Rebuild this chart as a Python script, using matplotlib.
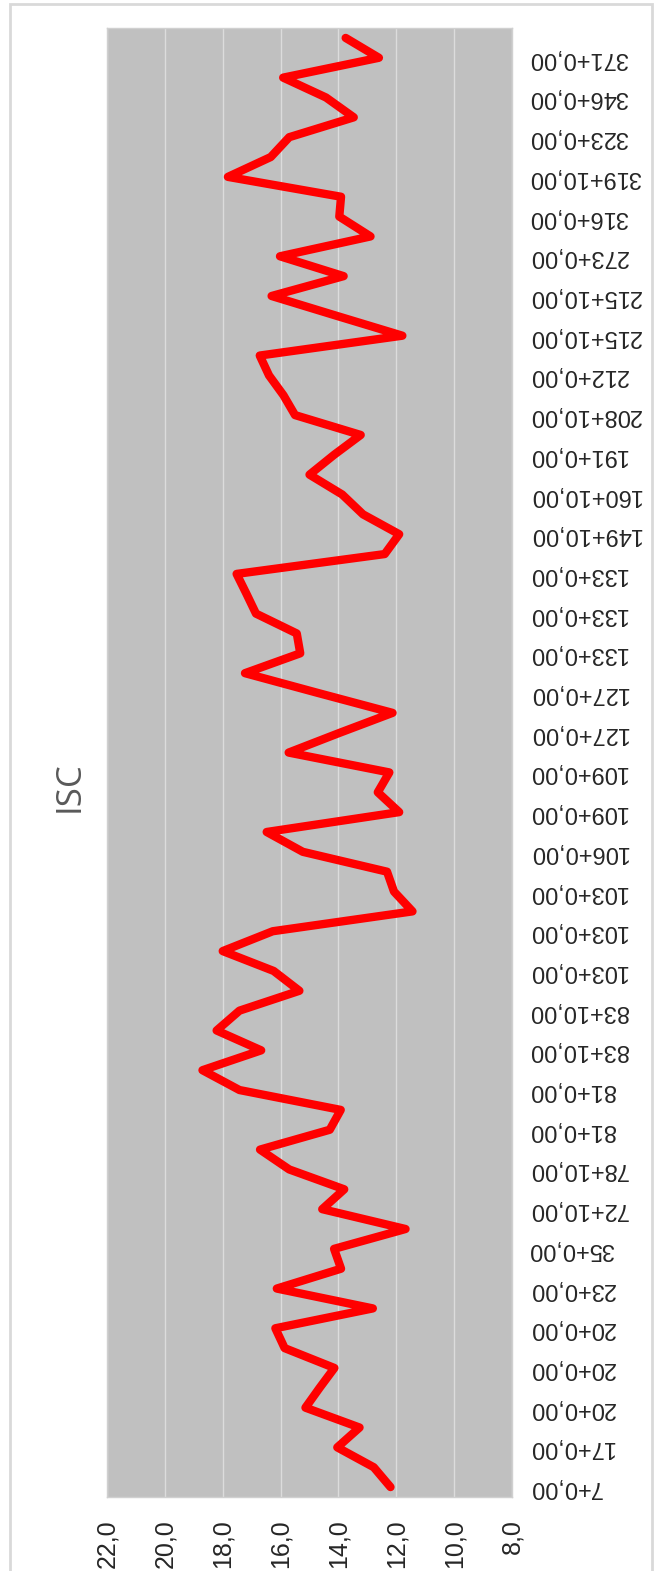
import matplotlib.pyplot as plt
from matplotlib.patches import Rectangle

# category labels (every other point is labelled)
estacas = ["7+0,00", "17+0,00", "20+0,00", "20+0,00", "20+0,00", "23+0,00", "35+0,00",
           "72+10,00", "78+10,00", "81+0,00", "81+0,00", "83+10,00", "83+10,00",
           "103+0,00", "103+0,00", "103+0,00", "106+0,00", "109+0,00", "109+0,00",
           "127+0,00", "127+0,00", "133+0,00", "133+0,00", "133+0,00", "149+10,00",
           "160+10,00", "191+0,00", "208+10,00", "212+0,00", "215+10,00", "215+10,00",
           "273+0,00", "316+0,00", "319+10,00", "323+0,00", "346+0,00", "371+0,00"]

isc = [12.2, 12.78, 14.04, 13.27, 15.14, 14.65, 14.14, 15.86, 16.18, 12.81,
       16.13, 13.91, 14.15, 11.68, 14.56, 13.8, 15.7, 16.71, 14.3, 13.92,
       17.42, 18.7, 16.67, 18.21, 17.42, 15.35, 16.24, 18.0, 16.27, 11.44,
       12.08, 12.32, 15.23, 16.48, 11.9, 12.64, 12.24, 15.72, 13.95, 12.13,
       14.7, 17.23, 15.32, 15.44, 16.85, 17.18, 17.52, 12.4, 11.9, 13.15,
       13.87, 15.0, 14.15, 13.23, 15.5, 15.9, 16.4, 16.72, 11.79, 14.06,
       16.31, 13.82, 16.02, 12.89, 13.97, 13.91, 17.82, 16.34, 15.7, 13.47,
       14.43, 15.91, 12.6, 13.75]

val_ticks = [22, 20, 18, 16, 14, 12, 10, 8]
val_labels = ["22,0", "20,0", "18,0", "16,0", "14,0", "12,0", "10,0", "8,0"]

W, H = 657, 1571
fig = plt.figure(figsize=(W / 100, H / 100), dpi=100)

# chart is drawn turned on its side
ax = fig.add_axes([107 / W, 1 - 1497 / H, 405 / W, 1469 / H])
ax.set_facecolor("#c0c0c0")
pos = list(range(len(isc)))
ax.plot(isc, pos, color="#ff0000", lw=6, solid_joinstyle="round", solid_capstyle="round")

ax.set_xlim(22, 8)
ax.set_ylim(-0.5, len(isc) - 0.5)

ax.set_xticks(val_ticks)
ax.set_xticklabels(val_labels, rotation=90, family="Liberation Sans", fontsize=18, color="#262626")
ax.grid(axis="x", color="#dcdcdc", lw=1)
ax.set_axisbelow(True)

ax.yaxis.tick_right()
ax.set_yticks(pos[::2])
ax.set_yticklabels(estacas, rotation=180, ha="left", va="center",
                   family="Liberation Sans", fontsize=17, color="#262626")
ax.tick_params(axis="x", length=0, pad=16)
ax.tick_params(axis="y", length=0, pad=12)
for s in ax.spines.values():
    s.set_color("#d0d0d0")
    s.set_linewidth(1)

fig.text(70 / W, 1 - 787 / H, "ISC", rotation=90, ha="center", va="center",
         family="Open Sans", fontsize=25, color="#595959")

# outer frame
fig.patches.append(Rectangle((10 / W, -0.01), 642 / W, 1 - 4 / H + 0.01, transform=fig.transFigure,
                             fill=False, edgecolor="#d9d9d9", lw=2))

fig.savefig("out.png", dpi=100)
